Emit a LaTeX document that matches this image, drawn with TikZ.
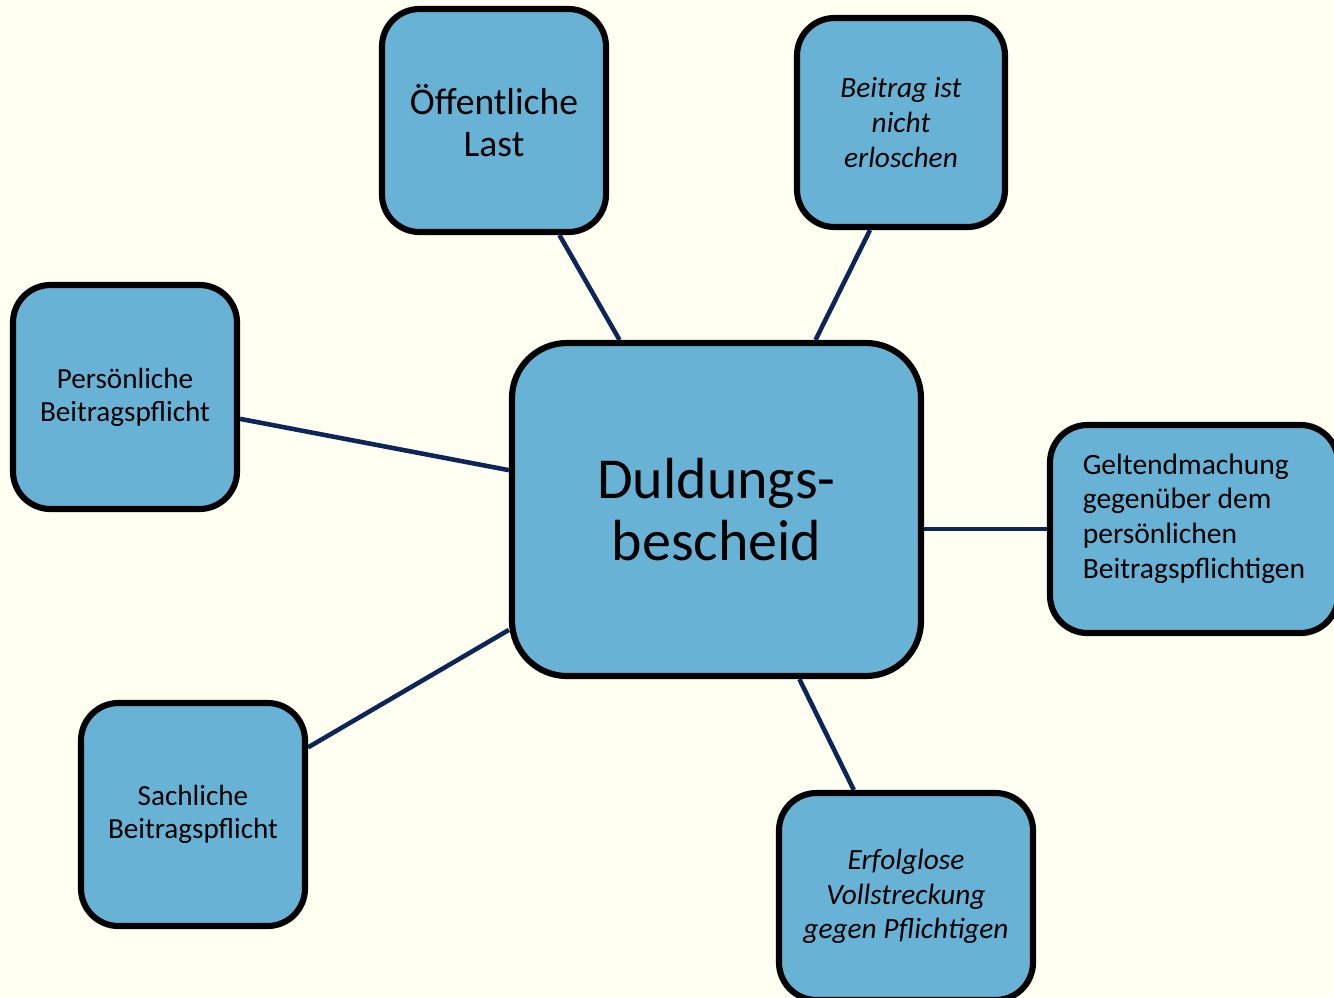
\documentclass[tikz,border=0pt]{standalone}
\usepackage{fontspec}
\setmainfont{Carlito}

\definecolor{creme}{HTML}{FFFFF2}
\definecolor{feldblau}{HTML}{68B3D5}
\definecolor{linie}{HTML}{0E2558}

\pgfdeclarelayer{unten}
\pgfsetlayers{unten,main}

\tikzset{
  feld/.style={draw=black, line width=3.5pt, fill=feldblau, rounded corners=0.75cm, align=center, inner sep=0pt, text=black},
  verbindung/.style={draw=linie, line width=2.6pt},
}

\begin{document}
\begin{tikzpicture}
\useasboundingbox (0,0) rectangle (26.68,-19.94);
\begin{pgfonlayer}{unten}
\fill[creme] (0,0) rectangle (26.68,-19.94);
\end{pgfonlayer}

\node[feld, minimum width=8.18cm, minimum height=6.66cm, rounded corners=1.1cm, font=\fontsize{33}{35.7}\selectfont] (dul) at (14.33,-10.19) {Duldungs-\\bescheid};
\node[feld, minimum width=4.48cm, minimum height=4.46cm, font=\fontsize{21.4}{23.8}\selectfont] (last) at (9.88,-2.41) {Öffentliche\\Last};
\node[feld, minimum width=4.16cm, minimum height=4.18cm, font=\fontsize{16.7}{19.8}\selectfont\itshape] (erl) at (18.02,-2.45) {Beitrag ist\\nicht\\erloschen};
\node[feld, minimum width=4.48cm, minimum height=4.48cm, font=\fontsize{16.6}{18.7}\selectfont] (pers) at (2.5,-7.94) {Persönliche\\Beitragspflicht};
\node[feld, minimum width=5.76cm, minimum height=4.16cm, align=left, font=\fontsize{16.8}{19.8}\selectfont] (gelt) at (23.88,-10.58) {Geltendmachung\\gegenüber dem\\persönlichen\\Beitragspflichtigen\\[-0.18cm]\mbox{}};
\node[feld, minimum width=4.48cm, minimum height=4.46cm, font=\fontsize{16.6}{18.7}\selectfont] (sach) at (3.86,-16.29) {Sachliche\\Beitragspflicht};
\node[feld, minimum width=5.08cm, minimum height=4.14cm, font=\fontsize{16.7}{19.8}\selectfont\itshape] (voll) at (18.12,-17.93) {Erfolglose\\Vollstreckung\\gegen Pflichtigen};

\begin{pgfonlayer}{unten}
\draw[verbindung] (last) -- (dul);
\draw[verbindung] ([xshift=-0.62cm]erl.south) -- ([xshift=1.98cm]dul.north);
\draw[verbindung] (pers) -- (dul);
\draw[verbindung] (gelt.west) -- (gelt.west -| dul.east);
\draw[verbindung] (sach) -- (dul);
\draw[verbindung] (voll) -- (dul);
\end{pgfonlayer}
\end{tikzpicture}
\end{document}
